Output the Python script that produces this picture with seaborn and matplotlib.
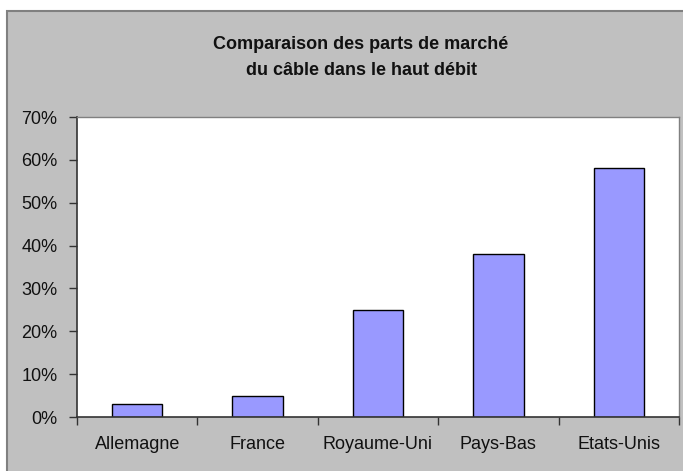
import matplotlib
matplotlib.use('Agg')
import matplotlib.pyplot as plt
import seaborn as sns
import pandas as pd
from matplotlib.patches import Rectangle

# ── Data ──────────────────────────────────────────────────────────────────────
countries = ["Allemagne", "France", "Royaume-Uni", "Pays-Bas", "Etats-Unis"]
shares = [3, 5, 25, 38, 58]          # % parts de marché du câble
y_ticks = [0, 10, 20, 30, 40, 50, 60, 70]
y_labels = [f"{v}%" for v in y_ticks]
title_lines = ["Comparaison des parts de marché",
               "du câble dans le haut débit"]

df = pd.DataFrame({"pays": countries, "part": shares})

# ── Figure ────────────────────────────────────────────────────────────────────
sns.set_style("white")
plt.rcParams['font.family'] = ['Liberation Sans', 'DejaVu Sans']

W, H = 683, 471
fig = plt.figure(figsize=(W / 100, H / 100), dpi=100)
fig.patch.set_facecolor("white")

# gray chart area (Excel style), drawn behind the axes
fig.patches.append(Rectangle((7 / W, -0.01), 1.0, 1 - 11 / H + 0.01,
                             transform=fig.transFigure, facecolor="#C0C0C0",
                             edgecolor="#808080", linewidth=1.5, zorder=-10))

ax = fig.add_axes([77 / W, 1 - 417 / H, (679 - 77) / W, (417 - 117) / H])
ax.set_facecolor("white")

sns.barplot(data=df, x="pays", y="part", ax=ax, color="#9999FF",
            edgecolor="black", linewidth=1.0, width=0.42, saturation=1)

ax.set_xlim(-0.5, len(countries) - 0.5)
ax.set_ylim(0, 70)
ax.set_yticks(y_ticks)
ax.set_yticklabels(y_labels)
ax.set_xlabel("")
ax.set_ylabel("")

# tick marks on category boundaries, labels centred
ax.set_xticks([i - 0.5 for i in range(len(countries) + 1)], minor=True)
ax.tick_params(axis="x", which="major", length=0, pad=14, labelsize=13,
               labelcolor="#111111")
ax.tick_params(axis="x", which="minor", length=6, width=1, color="#333333",
               direction="out", bottom=True)
ax.tick_params(axis="y", length=6, width=1, color="#333333", direction="out",
               left=True, pad=8, labelsize=13, labelcolor="#111111")

for side in ["left", "bottom"]:
    ax.spines[side].set_color("#333333")
    ax.spines[side].set_linewidth(1.2)
for side in ["top", "right"]:
    ax.spines[side].set_color("#808080")
    ax.spines[side].set_linewidth(1.0)

for line, base_y in zip(title_lines, [49, 75]):
    fig.text(361 / W, 1 - base_y / H, line, ha="center", va="baseline",
             fontsize=13, fontweight="bold", color="#111111")

fig.savefig("out.png", dpi=100)
